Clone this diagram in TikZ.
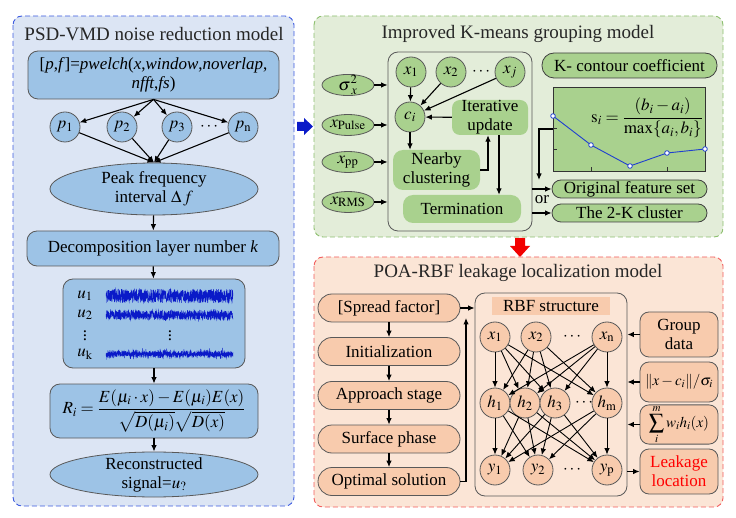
\documentclass[tikz,border=0pt]{standalone}
\usepackage{amsmath,amssymb}
\usepackage{mathptmx}
\usepackage{fontspec}
\setmainfont{Liberation Serif}
\usetikzlibrary{arrows.meta,shapes.geometric}

\definecolor{psdbg}{HTML}{DCE5F4}
\definecolor{psdline}{HTML}{3D5BE0}
\definecolor{psdnode}{HTML}{9DC3E6}
\definecolor{kmbg}{HTML}{E3EDD9}
\definecolor{kmline}{HTML}{8CBF6E}
\definecolor{kmnode}{HTML}{A9D18E}
\definecolor{poabg}{HTML}{FBE5D6}
\definecolor{poaline}{HTML}{F25C5C}
\definecolor{poanode}{HTML}{F8CBAD}
\definecolor{sigblue}{HTML}{0A1AC8}
\definecolor{curveblue}{HTML}{1F3FD0}

\begin{document}
\begin{tikzpicture}[x=1pt, y=-1pt, >={Latex[length=6.5pt,width=5.5pt]},
	every node/.style={font=\fontsize{17}{19}\selectfont, inner sep=0pt, align=center},
	panel/.style={dashed, dash pattern=on 5pt off 3pt, line width=0.9pt, rounded corners=9pt},
	ttl/.style={font=\fontsize{19}{22}\selectfont, text=black!85},
	box/.style={draw=black!65, line width=0.8pt, rounded corners=10pt},
	circ/.style={circle, draw=black!65, line width=0.8pt, minimum size=30pt},
	ell/.style={ellipse, draw=black!65, line width=0.8pt},
	arr/.style={->, line width=1.1pt}]
	\useasboundingbox (0,0) rectangle (736,518);
	% PSD-VMD panel
	\draw[panel, draw=psdline, fill=psdbg] (13,16) rectangle (294,506);
	\node[ttl] (psdt) at (154,34) {PSD-VMD noise reduction model};
	\node[box, fill=psdnode, minimum width=251pt, minimum height=48pt] (pw) at (153.5,75) {[\textit{p},\textit{f}]=\textit{pwelch}(\textit{x},\textit{window},\textit{noverlap},\\\textit{nfft},\textit{fs})};
	\foreach \n/\x/\lbl in {p1/65/1, p2/122/2, p3/177/3, pn/243/\mathrm{n}}
		\node[circ, fill=psdnode] (\n) at (\x,127) {$p_{\lbl}$};
	\node (pdots) at (210,127) {$\cdots$};
	\node[ell, fill=psdnode, minimum width=208pt, minimum height=52pt] (pk) at (154,189) {Peak frequency\\interval $\Delta\,f$};
	\foreach \n in {p1,p2,p3,pn} {\draw[arr] (pw.south) -- (\n); \draw[arr] (\n) -- (pk.north);}
	\node[box, fill=psdnode, minimum width=252pt, minimum height=35pt] (dl) at (153,248.5) {Decomposition layer number \textit{k}};
	\node[box, fill=psdnode, minimum width=182pt, minimum height=89pt] (sg) at (154,323.5) {};
	\node (u1) at (85,296) {$u_1$};
	\node (u2) at (85,315) {$u_2$};
	\node (ud) at (85,333) {$\vdots$};
	\node (uk) at (85,354) {$u_{\mathrm{k}}$};
	\node (sd) at (170,333) {$\vdots$};
	\pgfmathsetseed{11}
	\draw[sigblue, line width=0.45pt] plot[domain=106:233, samples=900] (\x,{296+7*rand});
	\draw[sigblue, line width=0.45pt] plot[domain=106:233, samples=900] (\x,{315+(4+2*rnd)*rand});
	\draw[sigblue, line width=0.45pt] plot[domain=106:233, samples=900] (\x,{354+(2+5*rnd*rnd)*rand});
	\node[box, fill=psdnode, minimum width=208pt, minimum height=54pt] (rf) at (154,411) {$R_i=\dfrac{E(\mu_i\cdot x)-E(\mu_i)E(x)}{\sqrt{D(\mu_i)}\sqrt{D(x)}}$};
	\node[ell, fill=psdnode, minimum width=208pt, minimum height=45pt, inner ysep=-3pt] (rs) at (154,474.5) {Reconstructed\\signal=$u_?$};
	\draw[arr] (pk) -- (dl);
	\draw[arr] (dl) -- (sg);
	\draw[arr] (sg) -- (rf);
	\draw[arr] (rf) -- (rs);
	% arrows between panels
	\fill[sigblue] (297,122) -- (304,122) -- (304,118) -- (313,126.5) -- (304,135) -- (304,131) -- (297,131) -- cycle;
	\fill[red!95!black] (515,238) -- (525,238) -- (525,246) -- (530,246) -- (520,257) -- (510,246) -- (515,246) -- cycle;
	% K-means panel
	\draw[panel, draw=kmline, fill=kmbg] (314,16) rectangle (723,237);
	\node[ttl] (kmt) at (518,34) {Improved K-means grouping model};
	\node[box, minimum width=144pt, minimum height=179pt] (kb) at (460,141.5) {};
	\foreach \n/\y/\lbl in {sx/85/\sigma^{2}_{\;x}, xpu/125/x_{\mathrm{Pulse}}, xpp/162/x_{\mathrm{pp}}, xrms/202/x_{\mathrm{RMS}}} {
		\node[ell, fill=kmnode, minimum width=52pt, minimum height=21pt, inner xsep=-4pt, inner ysep=-2pt] (\n) at (348,\y) {$\lbl$};
		\draw[arr] (\n) -- (\n -| kb.west);
	}
	\foreach \n/\x/\lbl in {x1/411/x_1, x2/451/x_2, xj/510/x_j}
		\node[circ, fill=kmnode] (\n) at (\x,72) {$\lbl$};
	\node (xdots) at (482,72) {$\cdots$};
	\node[circ, fill=kmnode] (ci) at (410,117) {$c_i$};
	\node[fill=kmnode, rounded corners=8pt, minimum width=76pt, minimum height=35pt] (iu) at (490,117.5) {Iterative\\update};
	\node[fill=kmnode, rounded corners=10pt, minimum width=87pt, minimum height=40pt] (nc) at (436.5,170) {Nearby\\clustering};
	\node[fill=kmnode, rounded corners=10pt, minimum width=118pt, minimum height=28pt] (tm) at (462,209) {Termination};
	\draw[arr] (x1) -- (ci);
	\draw[arr] (x2) -- (ci);
	\draw[arr] (xj) -- (ci);
	\draw[arr] (iu) -- (ci);
	\draw[arr] (ci) -- (ci |- nc.north);
	\draw[arr] (nc.east) -| ([xshift=-2pt]iu.south);
	\draw[arr] ([xshift=9pt]iu.south) -- ([xshift=9pt]iu.south |- tm.north);
	\node[box, fill=kmnode, draw=black!75, minimum width=175pt, minimum height=25pt, rounded corners=12pt] (kc) at (629.5,65.5) {K- contour coefficient};
	\node[draw=black!80, line width=0.8pt, fill=kmnode, minimum width=152pt, minimum height=84pt] (ch) at (629,129) {};
	\foreach \x in {591,667} \draw[black!80] (\x,171) -- (\x,167);
	\foreach \y in {128,149} \draw[black!80] (553,\y) -- (557,\y);
	\draw[curveblue, line width=0.9pt] (553,116) -- (591,145) -- (630,166) -- (667,153) -- (705,149);
	\foreach \p in {(553,116),(591,145),(630,166),(667,153),(705,149)}
		\draw[curveblue, fill=white, line width=0.8pt] \p circle (2.3pt);
	\node (si) at (647,118) {$\mathrm{s}_i=\dfrac{(b_i-a_i)}{\max\{a_i,b_i\}}$};
	\coordinate (orj) at (539,180);
	\draw[arr] (ch.west) -| (orj);
	\node[box, fill=kmnode, draw=black!75, minimum width=155pt, minimum height=18pt, rounded corners=9pt] (ofs) at (629.5,189) {Original feature set};
	\node[box, fill=kmnode, draw=black!75, minimum width=155pt, minimum height=18pt, rounded corners=9pt] (tk) at (629.5,213) {The 2-K cluster};
	\draw[arr] (kb.east |- ofs) -- (ofs);
	\draw[arr] (kb.east |- tk) -- (tk);
	\node (ortxt) at (542,200) {or};
	% POA-RBF panel
	\draw[panel, draw=poaline, fill=poabg] (314,257) rectangle (723,507);
	\node[ttl] (poat) at (518,273) {POA-RBF leakage localization model};
	\foreach \n/\y/\lbl in {sf/308/{[Spread factor]}, ini/351.5/Initialization, ap/395.5/Approach stage, su/439/Surface phase, os/481.5/Optimal solution}
		\node[box, fill=poanode, minimum width=142pt, minimum height=28pt, rounded corners=14pt] (\n) at (389,\y) {\lbl};
	\foreach \a/\b in {sf/ini, ini/ap, ap/su, su/os} \draw[arr] (\a) -- (\b);
	\node[box, minimum width=152pt, minimum height=203pt] (rb) at (551,394.5) {};
	\node[fill=poanode, minimum width=118pt, minimum height=18pt] (rbl) at (551,306) {RBF structure};
	\draw[arr] (sf) -- (sf -| rb.west);
	\coordinate (fb) at (466,318);
	\draw[arr] (os) -| (fb);
	\foreach \n/\x/\lbl in {xa/495/x_1, xb/536/x_2, xn/607/x_{\mathrm{n}}}
		\node[circ, fill=poanode] (\n) at (\x,337) {$\lbl$};
	\node (xrd) at (573,337) {$\cdots$};
	\foreach \n/\x/\lbl in {ha/495/h_1, hb/525/h_2, hc/555/h_3, hm/607/h_{\mathrm{m}}}
		\node[circ, fill=poanode] (\n) at (\x,403) {$\lbl$};
	\node (hrd) at (585,403) {$\cdots$};
	\foreach \n/\x/\lbl in {ya/495/y_1, yb/538/y_2, yp/607/y_{\mathrm{p}}}
		\node[circ, fill=poanode] (\n) at (\x,470) {$\lbl$};
	\node (yrd) at (573,470) {$\cdots$};
	\foreach \a in {xa,xb,xn} \foreach \b in {ha,hb,hc,hm} \draw[arr, line width=0.9pt] (\a) -- (\b);
	\foreach \a in {ha,hb,hc,hm} \foreach \b in {ya,yb,yp} \draw[arr, line width=0.9pt] (\a) -- (\b);
	\node[box, fill=poanode, minimum width=78pt, minimum height=45pt, rounded corners=9pt] (gd) at (679,334.5) {Group\\data};
	\node[box, fill=poanode, minimum width=78pt, minimum height=40pt, rounded corners=9pt, font=\fontsize{15}{17}\selectfont] (nm) at (679,382) {$\|x-c_i\|/\sigma_i$};
	\node[box, fill=poanode, minimum width=78pt, minimum height=39pt, rounded corners=9pt, font=\fontsize{15}{17}\selectfont] (sm) at (679,424.5) {$\displaystyle\sum_{i}^{m}w_ih_i(x)$};
	\node[box, fill=poanode, minimum width=78pt, minimum height=45pt, rounded corners=9pt, text=red] (ll) at (679,471.5) {Leakage\\location};
	\foreach \n in {gd,nm,sm} \draw[arr] (\n) -- (\n -| rb.east);
	\draw[arr] (rb.east |- ll) -- (ll);
\end{tikzpicture}
\end{document}
